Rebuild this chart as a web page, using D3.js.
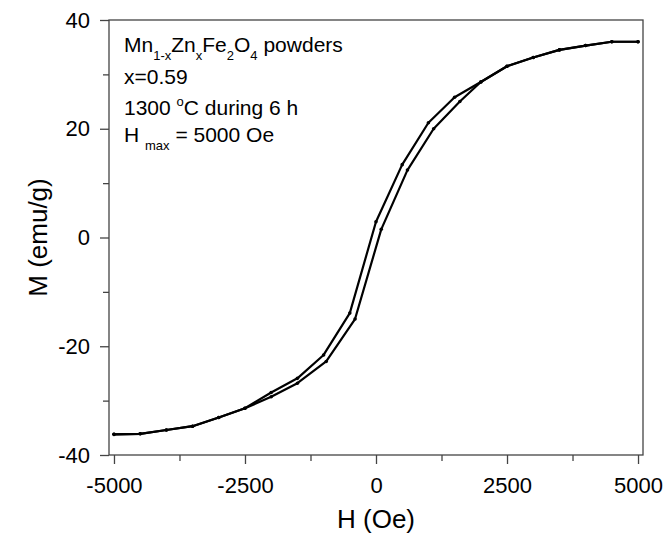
<!DOCTYPE html>
<html>
<head>
  <meta charset="utf-8">
  <title>Mn-Zn ferrite hysteresis</title>
  <script src="https://d3js.org/d3.v7.min.js"></script>
  <style>
    body { margin: 0; background: #fff; }
    svg text { font-family: "Liberation Sans", Arial, sans-serif; fill: #000; }
    .axis path, .axis line { stroke: #444; stroke-width: 1.3; }
  </style>
</head>
<body>
<div id="chart"></div>
<script>
"use strict"

// descending branch (from +Hmax)
var hDown = [5000, 4500, 4000, 3500, 3000, 2500, 2000, 1500, 1000, 500, 0,
             -500, -1000, -1500, -2000, -2500, -3000, -3500, -4000, -4500, -5000];
var mDown = [36.0, 36.0, 35.3, 34.5, 33.1, 31.5, 28.6, 25.8, 21.1, 13.4, 2.9,
             -13.9, -21.6, -25.9, -28.5, -31.4, -33.1, -34.7, -35.4, -36.1, -36.2];

// ascending branch (from -Hmax)
var hUp = [-5000, -4500, -4000, -3500, -3000, -2500, -2000, -1500, -950, -400, 100,
           600, 1100, 1600, 2000, 2500, 3000, 3500, 4000, 4500, 5000];
var mUp = [-36.2, -36.1, -35.4, -34.7, -33.1, -31.4, -29.3, -26.8, -22.8, -15.0, 1.5,
           12.4, 20.0, 25.0, 28.6, 31.5, 33.1, 34.5, 35.3, 36.0, 36.0];

var xTicks = [-5000, -2500, 0, 2500, 5000];
var xMinor = [-3750, -1250, 1250, 3750];
var yTicks = [-40, -20, 0, 20, 40];
var yMinor = [-30, -10, 10, 30];

var width = 669, height = 538;
var margin = {top: 20, right: 26, bottom: 83, left: 109};

var svg = d3.select('#chart')
            .append('svg')
              .attr('width', width)
              .attr('height', height);

var x = d3.scaleLinear()
          .domain([-5095, 5095])
          .range([margin.left, width - margin.right]);

var y = d3.scaleLinear()
          .domain([-40, 40])
          .range([height - margin.bottom, margin.top]);

// plain hyphen for negatives, like the original
var fmt = d => String(d);

// frame
svg.append('rect')
   .attr('x', margin.left)
   .attr('y', margin.top)
   .attr('width', width - margin.left - margin.right)
   .attr('height', height - margin.top - margin.bottom)
   .attr('fill', 'none')
   .attr('stroke', '#444')
   .attr('stroke-width', 1.3);

var bottom = height - margin.bottom;

var xAxis = svg.append('g')
   .attr('class', 'axis')
   .attr('transform', 'translate(0,' + bottom + ')')
   .call(d3.axisBottom(x).tickValues(xTicks).tickSize(9).tickPadding(13).tickFormat(fmt));
xAxis.select('.domain').remove();
xAxis.selectAll('text').attr('font-size', 22);

var xAxisMinor = svg.append('g')
   .attr('class', 'axis')
   .attr('transform', 'translate(0,' + bottom + ')')
   .call(d3.axisBottom(x).tickValues(xMinor).tickSize(6).tickFormat(''));
xAxisMinor.select('.domain').remove();

var yAxis = svg.append('g')
   .attr('class', 'axis')
   .attr('transform', 'translate(' + margin.left + ',0)')
   .call(d3.axisLeft(y).tickValues(yTicks).tickSize(9).tickPadding(10).tickFormat(fmt));
yAxis.select('.domain').remove();
yAxis.selectAll('text').attr('font-size', 22);

var yAxisMinor = svg.append('g')
   .attr('class', 'axis')
   .attr('transform', 'translate(' + margin.left + ',0)')
   .call(d3.axisLeft(y).tickValues(yMinor).tickSize(6).tickFormat(''));
yAxisMinor.select('.domain').remove();

// axis titles
svg.append('text')
   .attr('x', x(0))
   .attr('y', 528)
   .attr('text-anchor', 'middle')
   .attr('font-size', 26)
   .text('H (Oe)');

svg.append('text')
   .attr('transform', 'translate(47,' + y(0) + ') rotate(-90)')
   .attr('text-anchor', 'middle')
   .attr('font-size', 26)
   .text('M (emu/g)');

// curves
var line = d3.line()
             .x(d => x(d[0]))
             .y(d => y(d[1]));

var down = d3.zip(hDown, mDown);
var up = d3.zip(hUp, mUp);

[down, up].forEach(function(serie) {
  svg.append('path')
     .datum(serie)
     .attr('d', line)
     .attr('fill', 'none')
     .attr('stroke', '#000')
     .attr('stroke-width', 2.2)
     .attr('stroke-linejoin', 'round');

  svg.append('g')
     .selectAll('circle')
     .data(serie)
     .enter()
     .append('circle')
       .attr('cx', d => x(d[0]))
       .attr('cy', d => y(d[1]))
       .attr('r', 1.8)
       .attr('fill', '#000');
});

// annotation
var note = svg.append('g').attr('font-size', 21);

var l1 = note.append('text').attr('x', 124).attr('y', 52);
l1.append('tspan').text('Mn');
l1.append('tspan').attr('font-size', 13).attr('dy', 8).text('1-x');
l1.append('tspan').attr('dy', -8).text('Zn');
l1.append('tspan').attr('font-size', 13).attr('dy', 8).text('x');
l1.append('tspan').attr('dy', -8).text('Fe');
l1.append('tspan').attr('font-size', 13).attr('dy', 8).text('2');
l1.append('tspan').attr('dy', -8).text('O');
l1.append('tspan').attr('font-size', 13).attr('dy', 8).text('4');
l1.append('tspan').attr('dy', -8).text(' powders');

note.append('text').attr('x', 124).attr('y', 84).text('x=0.59');

var l3 = note.append('text').attr('x', 124).attr('y', 115);
l3.append('tspan').text('1300 ');
l3.append('tspan').attr('font-size', 13).attr('dy', -9).text('o');
l3.append('tspan').attr('dy', 9).text('C during 6 h');

var l4 = note.append('text').attr('x', 124).attr('y', 142);
l4.append('tspan').text('H ');
l4.append('tspan').attr('font-size', 13).attr('dy', 8).text('max');
l4.append('tspan').attr('dy', -8).text(' = 5000 Oe');
</script>
</body>
</html>
